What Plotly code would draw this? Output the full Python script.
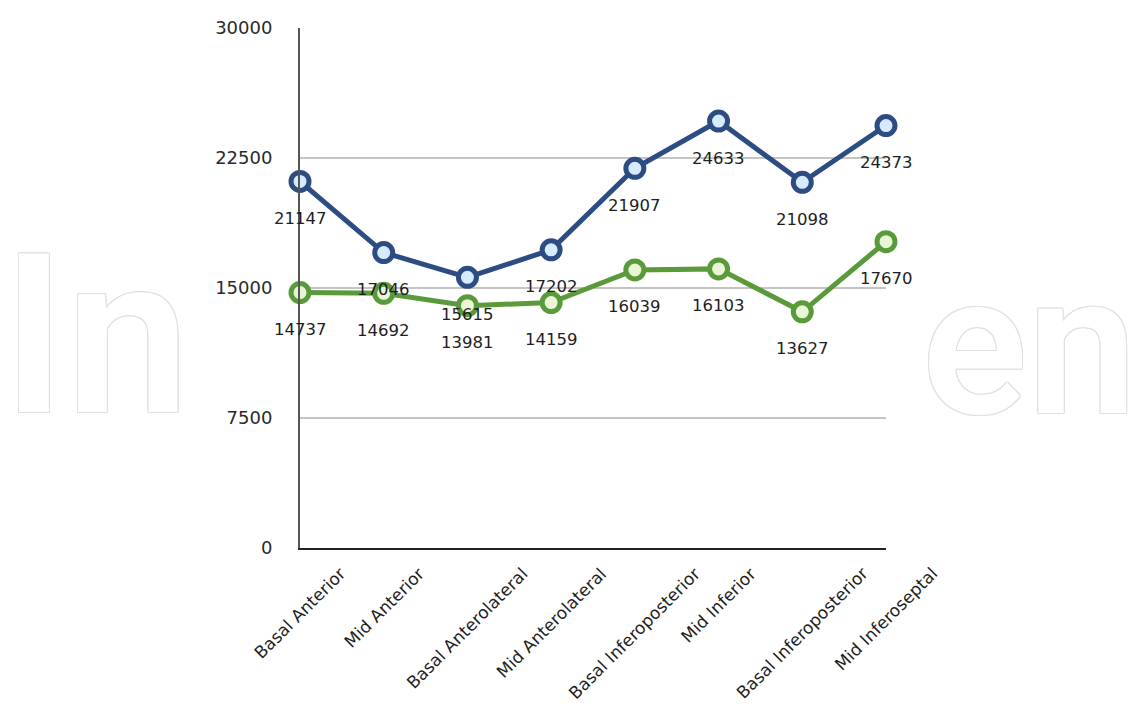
import plotly.graph_objects as go

categories = ["Basal Anterior", "Mid Anterior", "Basal Anterolateral", "Mid Anterolateral",
              "Basal Inferoposterior", "Mid Inferior", "Basal Inferoposterior ", "Mid Inferoseptal"]
blue_values = [21147, 17046, 15615, 17202, 21907, 24633, 21098, 24373]
green_values = [14737, 14692, 13981, 14159, 16039, 16103, 13627, 17670]
y_ticks = [0, 7500, 15000, 22500, 30000]

BLUE = "#2c4c82"
BLUE_FILL = "#d6ebff"
GREEN = "#5b9a3b"
GREEN_FILL = "#e8f6d6"
FONT = "DejaVu Sans"

fig = go.Figure()

shadow = ", ".join(f"{dx}px {dy}px 0 #e0e0e0" for dx, dy in
                   [(1, 0), (-1, 0), (0, 1), (0, -1), (1, 1), (-1, -1), (1, -1), (-1, 1)])


def px_x(p):
    return (p - 300) / 586


# watermark pieces visible around the chart
fig.add_annotation(text="In", xref="paper", yref="paper", x=px_x(0), y=0.408,
                   xanchor="left", yanchor="middle", showarrow=False,
                   font=dict(family="Roboto", size=222, color="white", weight=600, shadow=shadow))
fig.add_annotation(text="en", xref="paper", yref="paper", x=px_x(1139), y=0.388,
                   xanchor="right", yanchor="middle", showarrow=False,
                   font=dict(family="Roboto", size=196, color="white", weight=600, shadow=shadow))

for vals, col, fill in [(green_values, GREEN, GREEN_FILL), (blue_values, BLUE, BLUE_FILL)]:
    fig.add_trace(go.Scatter(
        x=categories, y=vals, mode="lines+markers",
        line=dict(color=col, width=5),
        marker=dict(symbol="circle", size=18, color=fill, line=dict(color=col, width=5)),
        cliponaxis=False, showlegend=False, hoverinfo="skip"))

for vals in (blue_values, green_values):
    for c, v in zip(categories, vals):
        fig.add_annotation(x=c, y=v, text=str(v), showarrow=False, yshift=-37,
                           xanchor="center", yanchor="middle",
                           font=dict(family=FONT, size=16.5, color="#1e1e1e"))

for c in categories:
    fig.add_annotation(x=c, y=0, text=c.strip(), showarrow=False, textangle=-45,
                       xanchor="center", yanchor="top", yshift=-13,
                       font=dict(family=FONT, size=17, color="#1e1e1e"))

fig.update_layout(
    width=1140, height=709,
    margin=dict(l=300, r=254, t=28, b=161),
    paper_bgcolor="white", plot_bgcolor="rgba(0,0,0,0)",
    xaxis=dict(type="category", range=[0, 7], showgrid=False, zeroline=False,
               showline=True, linecolor="#222222", linewidth=2,
               showticklabels=False, ticks=""),
    yaxis=dict(range=[0, 30000], tickvals=y_ticks, ticktext=[str(t) for t in y_ticks],
               showgrid=True, gridcolor="#c4c4c4", gridwidth=2, zeroline=False,
               showline=True, linecolor="#555555", linewidth=2,
               ticks="outside", ticklen=22, tickcolor="rgba(0,0,0,0)",
               tickfont=dict(family=FONT, size=18, color="#2a2a2a")),
)

fig.write_html("out.html")
